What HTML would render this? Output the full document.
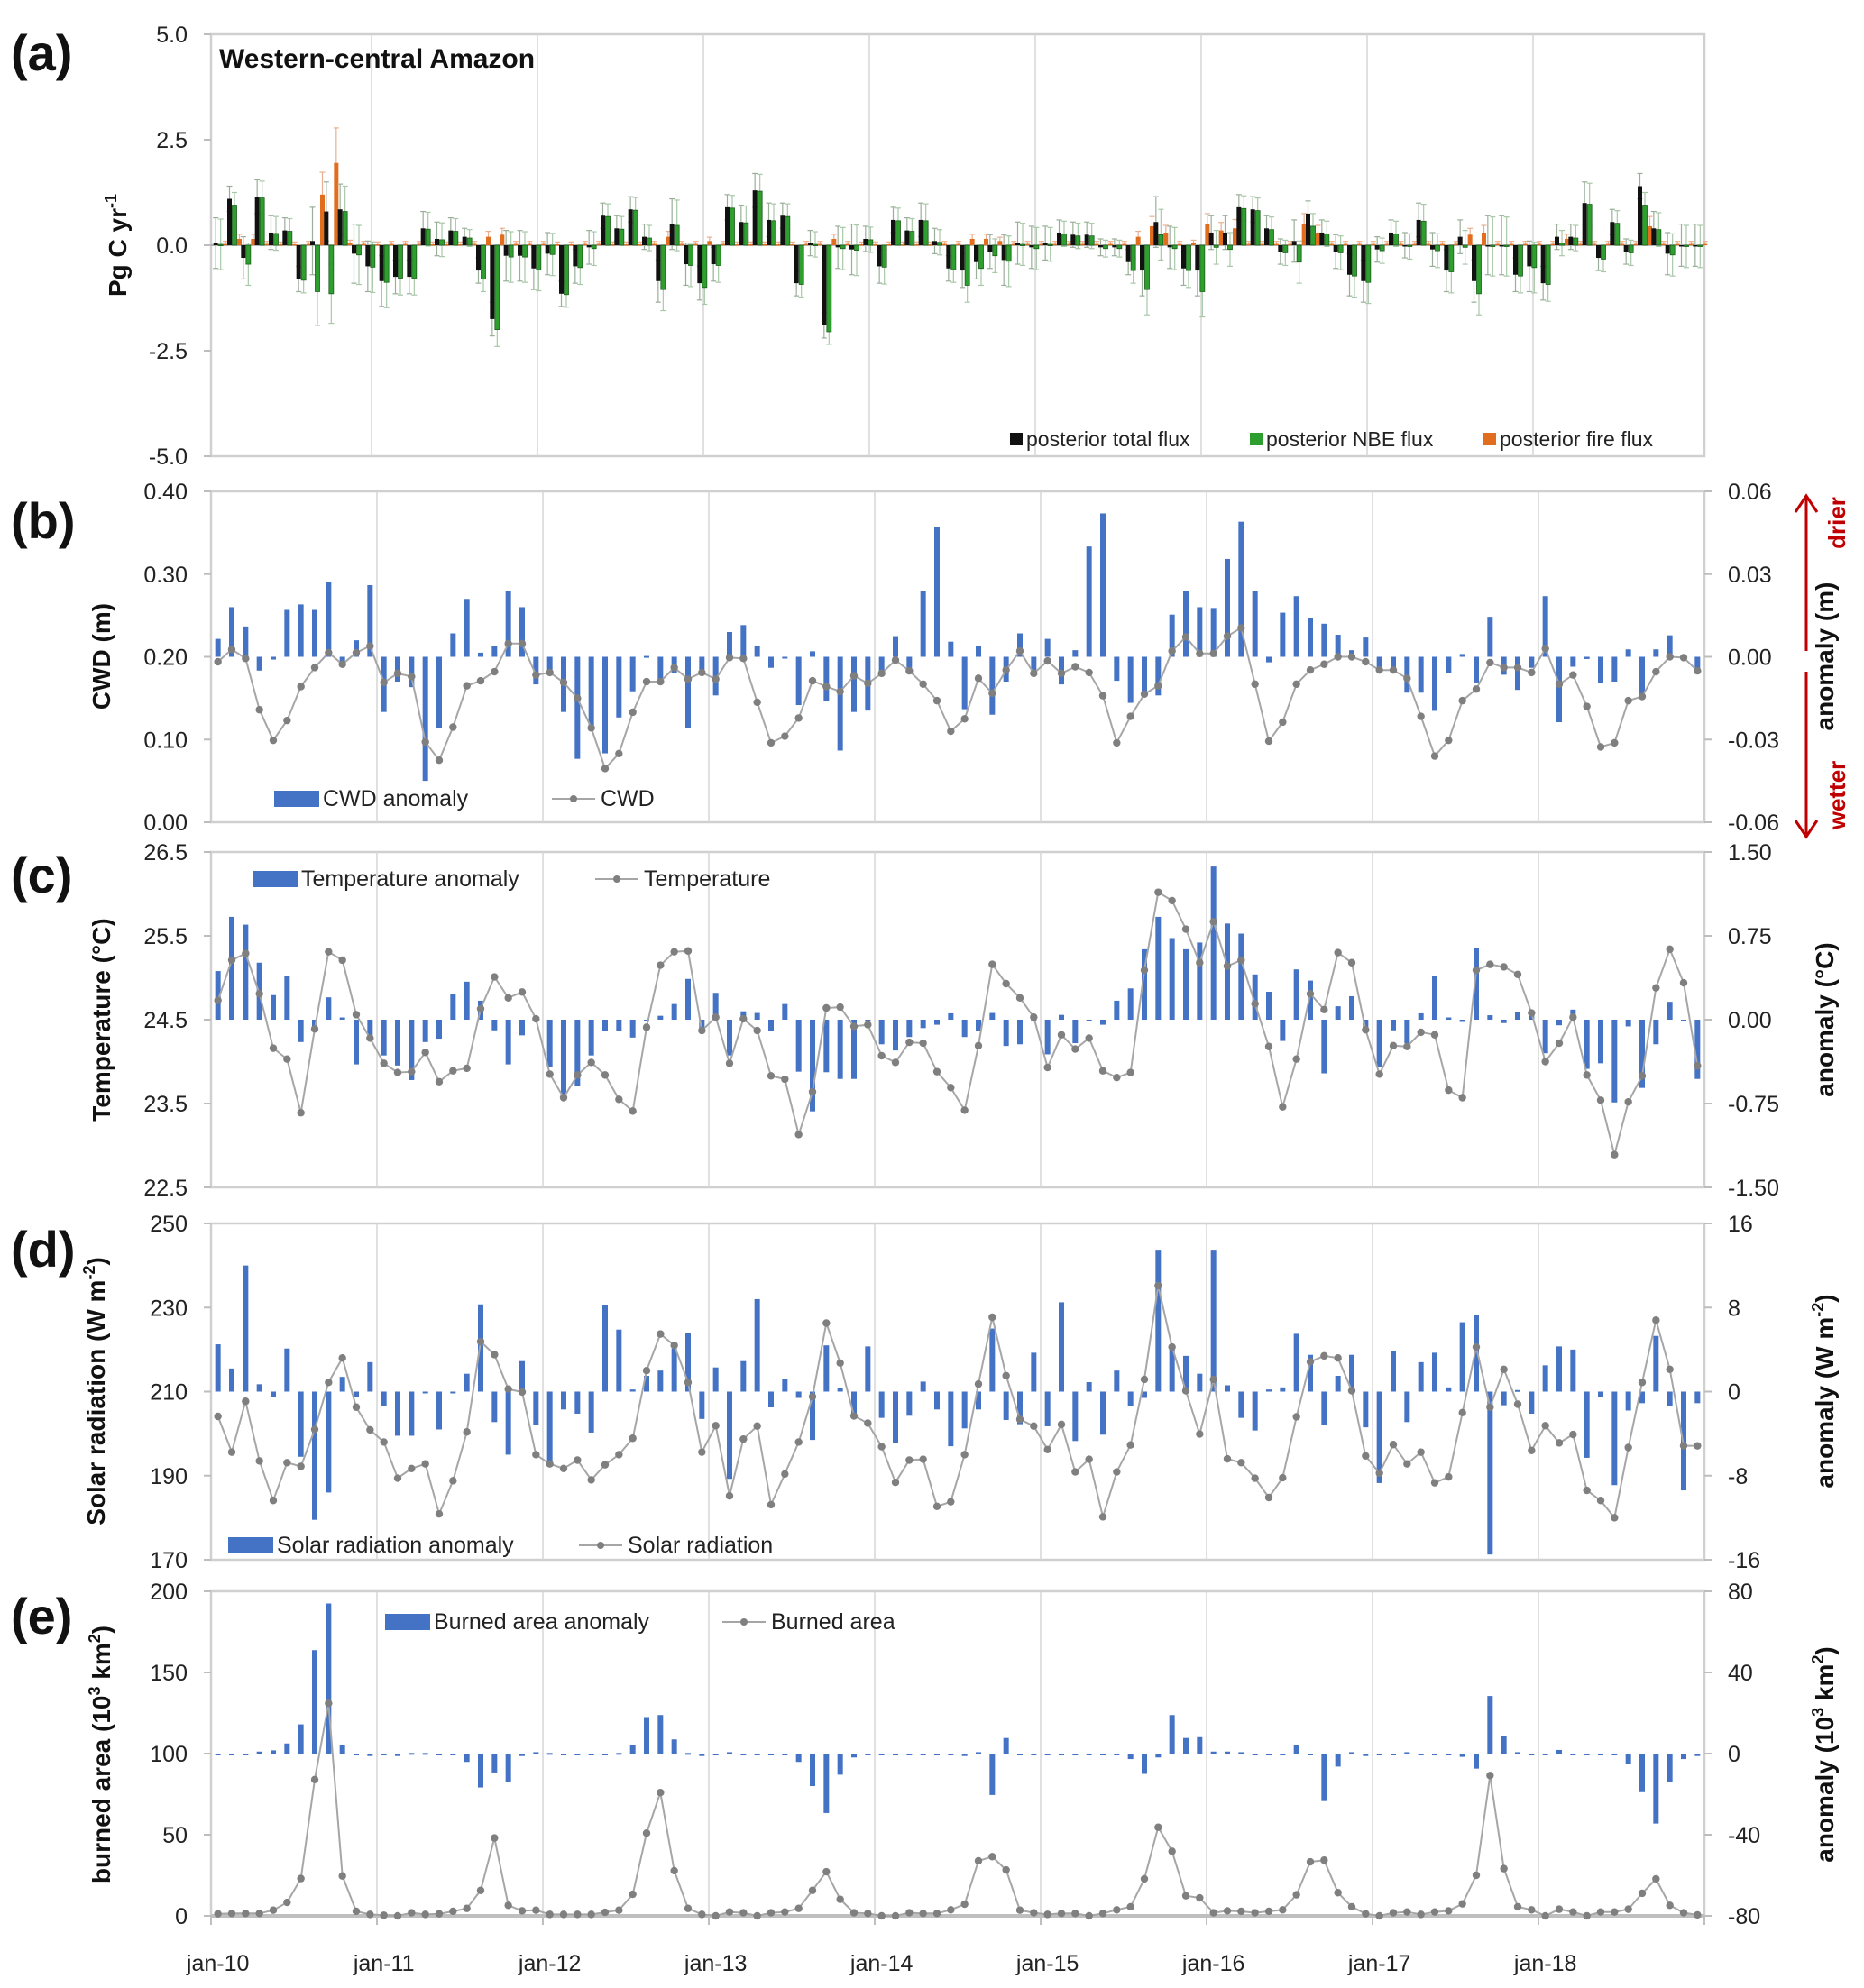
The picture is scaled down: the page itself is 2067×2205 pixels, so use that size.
<!DOCTYPE html>
<html><head><meta charset="utf-8">
<style>
html,body{margin:0;padding:0;background:#fff;}
svg text{font-family:"Liberation Sans",sans-serif;}
</style></head>
<body>
<svg id="fig" xmlns="http://www.w3.org/2000/svg" width="2067" height="2200" viewBox="0 0 2067 2200"></svg>
<script>
// ---------- data (monthly, jan-2010 .. dec-2018) ----------
const yearLabels = ["jan-10","jan-11","jan-12","jan-13","jan-14","jan-15","jan-16","jan-17","jan-18"];

const totalFlux = [0.05,1.1,-0.3,1.15,0.3,0.35,-0.8,0.1,0.8,0.85,-0.2,-0.5,-0.85,-0.75,-0.75,0.4,0.15,0.35,0.2,-0.6,-1.75,-0.25,-0.25,-0.55,-0.2,-1.15,-0.5,-0.05,0.7,0.4,0.85,0.2,-0.85,0.5,-0.45,-0.9,-0.45,0.9,0.55,1.3,0.6,0.7,-0.9,0.05,-1.9,-0.05,-0.1,0.15,-0.5,0.6,0.35,0.6,0.1,-0.55,
-0.6,-0.4,-0.15,-0.35,0.05,-0.05,0.05,0.3,0.25,0.25,-0.05,-0.05,-0.4,-0.6,0.55,-0.05,-0.55,-0.6,0.3,0.3,0.9,0.85,0.4,-0.15,0.1,0.75,0.3,-0.15,-0.7,-0.85,-0.1,0.3,0.0,0.6,-0.1,-0.6,0.2,-0.85,0.0,0.0,-0.7,-0.5,-0.9,0.2,0.2,1.0,-0.3,0.55,-0.15,1.4,0.4,-0.2,0.0,0.0];
const fireFlux = [0.03,0.15,0.15,0.03,0.02,0.02,0.03,1.2,1.95,0.05,0.03,0.02,0.03,0.03,0.03,0.02,0.02,0.02,0.03,0.2,0.25,0.03,0.03,0.03,0.02,0.02,0.03,0.03,0.02,0.02,0.02,0.03,0.2,0.03,0.03,0.1,0.03,0.02,0.02,0.02,0.02,0.02,0.03,0.03,0.15,0.03,0.02,0.02,0.02,0.02,0.02,0.02,0.03,0.03,
0.15,0.15,0.1,0.03,0.03,0.03,0.03,0.03,0.03,0.03,0.03,0.03,0.2,0.45,0.3,0.03,0.05,0.5,0.35,0.4,0.03,0.03,0.03,0.03,0.5,0.3,0.03,0.03,0.03,0.03,0.03,0.03,0.03,0.03,0.03,0.03,0.25,0.3,0.03,0.03,0.03,0.03,0.03,0.15,0.03,0.03,0.03,0.03,0.03,0.45,0.03,0.03,0.03,0.03];
const nbeFlux = [0.02,0.95,-0.45,1.12,0.28,0.33,-0.83,-1.1,-1.15,0.8,-0.23,-0.52,-0.88,-0.78,-0.78,0.38,0.13,0.33,0.17,-0.8,-2.0,-0.28,-0.28,-0.58,-0.22,-1.17,-0.53,-0.08,0.68,0.38,0.83,0.17,-1.05,0.47,-0.48,-1.0,-0.48,0.88,0.53,1.28,0.58,0.68,-0.93,0.02,-2.05,-0.08,-0.12,0.13,-0.52,0.58,0.33,0.58,0.07,-0.58,
-0.95,-0.55,-0.25,-0.38,0.02,-0.08,0.02,0.27,0.22,0.22,-0.08,-0.08,-0.6,-1.05,0.25,-0.08,-0.6,-1.1,-0.05,-0.1,0.87,0.82,0.37,-0.18,-0.4,0.45,0.27,-0.18,-0.73,-0.88,-0.13,0.27,-0.03,0.57,-0.13,-0.63,-0.05,-1.15,-0.03,-0.03,-0.73,-0.53,-0.93,0.05,0.17,0.97,-0.33,0.52,-0.18,0.95,0.37,-0.23,-0.03,-0.03];
const fluxErr = [0.6,0.3,0.5,0.4,0.4,0.3,0.3,0.8,0.7,0.6,0.7,0.6,0.6,0.4,0.4,0.4,0.4,0.3,0.2,0.3,0.4,0.6,0.6,0.5,0.5,0.3,0.4,0.4,0.3,0.3,0.3,0.3,0.5,0.6,0.5,0.4,0.4,0.3,0.4,0.4,0.4,0.3,0.3,0.3,0.3,0.5,0.6,0.3,0.4,0.3,0.3,0.4,0.3,0.3,
0.4,0.4,0.4,0.6,0.5,0.5,0.4,0.3,0.3,0.3,0.2,0.2,0.3,0.6,0.6,0.5,0.4,0.6,0.4,0.4,0.3,0.3,0.3,0.3,0.5,0.3,0.3,0.4,0.5,0.5,0.3,0.3,0.3,0.4,0.4,0.5,0.4,0.5,0.7,0.7,0.4,0.6,0.4,0.3,0.3,0.5,0.3,0.3,0.3,0.3,0.4,0.5,0.5,0.5];

const cwdAnom = [0.0065,0.018,0.011,-0.005,-0.001,0.017,0.019,0.017,0.027,-0.002,0.006,0.026,-0.020,-0.009,-0.011,-0.045,-0.026,0.0085,0.021,0.0015,0.004,0.024,0.018,-0.010,-0.005,-0.020,-0.037,-0.026,-0.035,-0.022,-0.0125,0.0003,-0.008,-0.006,-0.026,-0.006,-0.014,0.009,0.0115,0.004,-0.004,-0.0005,-0.0175,0.002,-0.016,-0.034,-0.020,-0.0195,-0.005,0.0075,-0.004,0.024,0.047,0.0055,-0.019,
0.004,-0.021,-0.009,0.0085,-0.005,0.0065,-0.010,0.0024,0.040,0.052,-0.0087,-0.0167,-0.0128,-0.014,0.0153,0.0238,0.018,0.0177,0.0355,0.049,0.024,-0.002,0.016,0.022,0.014,0.012,0.008,0.0024,0.007,-0.0044,-0.0044,-0.013,-0.013,-0.0196,-0.006,0.001,-0.0093,0.0145,-0.0065,-0.012,-0.004,0.022,-0.0237,-0.0036,-0.0008,-0.0095,-0.009,0.0027,-0.0153,0.0027,0.0078,0.0,-0.0044];
const cwdValue = [0.194,0.209,0.198,0.136,0.099,0.123,0.164,0.187,0.205,0.191,0.205,0.213,0.169,0.180,0.176,0.097,0.075,0.115,0.165,0.171,0.182,0.216,0.216,0.178,0.181,0.169,0.150,0.114,0.065,0.083,0.133,0.170,0.170,0.187,0.173,0.181,0.173,0.199,0.198,0.145,0.096,0.104,0.126,0.171,0.164,0.158,0.177,0.168,0.180,0.196,0.183,0.167,0.147,0.110,0.125,
0.174,0.156,0.184,0.207,0.180,0.195,0.180,0.188,0.181,0.153,0.096,0.128,0.155,0.165,0.207,0.224,0.204,0.204,0.225,0.235,0.167,0.098,0.121,0.167,0.184,0.191,0.200,0.200,0.194,0.184,0.184,0.174,0.128,0.080,0.099,0.147,0.161,0.193,0.187,0.187,0.181,0.210,0.167,0.178,0.140,0.091,0.096,0.147,0.152,0.182,0.200,0.199,0.183];

const tempAnom = [0.435,0.92,0.85,0.51,0.22,0.39,-0.20,-0.10,0.20,0.02,-0.40,-0.15,-0.32,-0.41,-0.54,-0.20,-0.17,0.23,0.34,0.17,-0.095,-0.40,-0.14,0.0,-0.42,-0.67,-0.59,-0.32,-0.10,-0.10,-0.16,0.0,0.035,0.14,0.365,-0.11,0.24,-0.32,0.075,0.06,-0.10,0.14,-0.465,-0.82,-0.47,-0.53,-0.53,0.0,-0.22,-0.275,-0.155,-0.075,-0.045,0.057,-0.155,
-0.10,0.06,-0.235,-0.22,0.0,-0.31,0.043,-0.21,0.0,-0.045,0.17,0.28,0.63,0.92,0.73,0.63,0.69,1.37,0.86,0.77,0.405,0.25,-0.19,0.45,0.35,-0.48,0.12,0.21,-0.08,-0.42,-0.095,-0.21,0.057,0.39,0.02,-0.02,0.64,0.04,-0.03,0.07,0.07,-0.30,-0.05,0.09,-0.44,-0.39,-0.74,-0.06,-0.61,-0.22,0.16,0.0,-0.53];
const tempValue = [24.73,25.21,25.29,24.81,24.16,24.03,23.39,24.39,25.31,25.21,24.56,24.28,23.98,23.87,23.88,24.11,23.76,23.89,23.92,24.63,25.01,24.76,24.83,24.51,23.85,23.57,23.84,23.99,23.84,23.55,23.41,24.41,25.15,25.31,25.32,24.37,24.53,23.98,24.51,24.37,23.83,23.79,23.13,23.64,24.64,24.65,24.42,24.44,24.07,23.99,24.23,24.22,23.88,23.69,23.42,
24.19,25.16,24.93,24.76,24.53,23.93,24.32,24.15,24.28,23.89,23.81,23.87,25.09,26.02,25.92,25.58,25.18,25.67,25.14,25.21,24.69,24.18,23.46,24.03,24.81,24.62,25.30,25.18,24.38,23.85,24.19,24.18,24.35,24.32,23.66,23.57,25.09,25.16,25.13,25.04,24.58,24.00,24.22,24.53,23.84,23.54,22.89,23.52,23.83,24.88,25.34,24.94,23.95];

const solarAnom = [4.5,2.2,12.0,0.7,-0.5,4.1,-6.2,-12.2,-9.6,1.4,-0.5,2.8,-1.4,-4.2,-4.2,0.0,-3.6,0.0,1.7,8.3,-2.9,-6.0,2.9,-3.2,-6.8,-1.7,-2.1,-3.9,8.2,5.9,0.2,1.5,2.0,4.1,5.6,-2.6,2.3,-8.3,2.9,8.8,-1.5,1.2,-0.6,-4.6,4.4,0.3,-2.2,4.3,-2.5,-4.9,-2.3,0.95,-1.7,-5.2,-3.5,
-1.7,6.0,-2.7,-3.1,3.7,-3.3,8.5,-4.7,0.9,-4.1,2.0,-1.4,-0.6,13.5,4.2,3.4,1.7,13.5,0.6,-2.5,-3.7,0.2,0.4,5.5,3.5,-3.2,1.5,3.5,-3.4,-8.7,3.9,-2.9,2.8,3.7,0.4,6.6,7.3,-15.5,-1.3,0.15,-2.1,2.5,4.3,4.0,-6.3,-0.5,-8.9,-1.8,-1.1,5.3,-1.4,-9.4,-1.1];
const solarValue = [204.1,195.6,207.7,193.5,184.1,193.1,192.2,201.0,212.2,218.0,206.3,200.9,198.0,189.4,191.7,192.8,180.9,188.8,200.4,221.9,218.8,210.6,209.9,195.0,192.8,191.7,193.7,189.0,192.6,195.0,198.9,215.0,223.7,221.0,212.2,195.6,201.9,185.2,198.7,201.8,183.1,190.4,198.0,208.8,226.3,216.8,204.2,202.5,196.9,188.4,193.7,193.9,182.7,183.8,195.0,
211.8,227.7,213.8,203.4,201.8,196.2,202.2,190.9,193.9,180.2,190.9,197.3,212.9,235.2,220.6,210.2,199.9,212.9,194.0,193.1,189.4,184.8,189.5,204.0,217.1,218.5,218.0,210.2,194.7,190.6,197.4,192.8,195.6,188.3,189.7,205.0,220.6,206.3,215.3,207.0,196.0,201.9,197.8,199.8,186.5,184.1,180.0,196.7,212.2,227.0,215.3,197.1,197.1];

const burnAnom = [-0.4,-0.5,-0.3,1.0,1.6,5,14.4,51,74,4,-0.9,-1.2,-0.7,-1.2,0.3,0.3,-0.4,0,-4.1,-16.7,-9.3,-14,-1.2,0.7,0.3,-0.1,-0.1,-0.1,-0.1,0.3,4,18,19,7,0.3,-1.2,-0.4,0.7,0,-0.1,0,-0.4,-4.1,-16,-29.3,-10.4,-1.9,-0.4,-0.4,-0.4,-0.1,-0.1,-0.1,-0.4,-1.2,
0.7,-20.4,7.7,0,0,0,0,0,0,0,0,-2.7,-10,-1.9,19,7.7,8.1,1.0,1.0,0.7,0,0,0,4.4,0,-23.4,-6.4,0.7,-1.2,-0.1,-0.1,0.7,-0.1,-0.1,-0.4,-1.6,-7.4,28.4,8.9,0.7,0,0,1.8,0,0,0,-0.4,-4.9,-19,-34.5,-13.8,-2.7,-1.2];
const burnValue = [1.3,1.5,1.5,1.5,3.5,8.3,23,84,131,24.6,2.8,0.9,0.4,0,1.9,0.9,1.3,2.8,4.6,15.7,48,6.5,3.1,3.5,0.9,0.9,0.9,0.9,2.2,3.5,13.3,51,76,27.8,4.6,0.9,0,2.4,1.9,0,1.9,2.4,4.6,15.7,27.2,10.2,1.9,1.5,0,0,1.9,1.5,1.5,3.7,7.2,
33.9,36.5,28.3,3.5,1.9,0.9,1.5,1.5,0,1.5,3.7,5.6,22.8,54.6,39.8,12.4,11.1,1.9,3.1,2.8,1.9,2.8,3.7,13,33.3,34.3,14.3,5.6,1.3,0,1.9,2.4,0.9,2.4,3.1,7.4,25,86.5,29.1,5.6,3.7,0,4.1,2.4,0,2.4,2.4,4.1,13.9,22.8,6.5,1.9,0.6];

// ---------- layout ----------
const NS = "http://www.w3.org/2000/svg";
const svg = document.getElementById('fig');
const X0 = 234, X1 = 1890, NM = 108;
const MW = (X1 - X0) / NM;
function xc(i){ return X0 + (i + 0.5) * MW; }
function mk(tag, attrs, parent){
  const e = document.createElementNS(NS, tag);
  for (const k in attrs) e.setAttribute(k, attrs[k]);
  (parent || svg).appendChild(e);
  return e;
}
function txt(s, x, y, size, opts, parent){
  const t = mk('text', Object.assign({x:x, y:y, 'font-size':size}, opts||{}), parent);
  t.textContent = s;
  return t;
}
function scale(v0, v1, p0, p1){ return v => p0 + (v - v0) / (v1 - v0) * (p1 - p0); }

function frame(g, top, bot, gridOffset, drawTicksBottom){
  mk('rect',{x:X0,y:top,width:X1-X0,height:bot-top,fill:'none',stroke:'#D0D0D0','stroke-width':2.5},g);
  for (let k=1;k<9;k++){
    const gx = X0 + k*12*MW + gridOffset;
    mk('line',{x1:gx,y1:top,x2:gx,y2:bot,stroke:'#D6D6D6','stroke-width':1.5},g);
  }
}
function leftAxis(g, ticks, labels, y, axTitle){
  ticks.forEach((v,i)=>{
    const yy = y(v);
    mk('line',{x1:X0-8,y1:yy,x2:X0,y2:yy,stroke:'#BDBDBD','stroke-width':2},g);
    const t = txt(labels[i], X0-26, yy+9, 25, {'text-anchor':'end',fill:'#222'}, g);
    
    
  });
}
function rightAxis(g, ticks, labels, y){
  ticks.forEach((v,i)=>{
    const yy = y(v);
    mk('line',{x1:X1,y1:yy,x2:X1+8,y2:yy,stroke:'#BDBDBD','stroke-width':2},g);
    const t = txt(labels[i], X1+26, yy+9, 25, {'text-anchor':'start',fill:'#222'}, g);
    
    
  });
}
function vTitle(g, parts, cx, cy, name){
  const t = mk('text',{x:0,y:0,'font-size':28,'font-weight':'bold','text-anchor':'middle',fill:'#111',
    transform:`translate(${cx},${cy}) rotate(-90)`},g);
  
  
  parts.forEach(p=>{
    const s = mk('tspan', p.sup?{'font-size':18,dy:-11}:(p.after?{dy:11}:{}), t);
    s.textContent = p.t;
  });
  return t;
}
function panelLabel(s, y){
  const t = txt(s, 12, y, 56, {'font-weight':'bold',fill:'#111'});
  
  
}
function anomBars(g, vals, yR, name){
  const y0 = yR(0);
  vals.forEach((v,i)=>{
    const yy = yR(v);
    let h = Math.abs(yy - y0); if (h < 2) h = 2;
    const r = mk('rect',{x:xc(i)-3,y:Math.min(yy,y0),width:6,height:h,fill:'#4472C4'},g);
    
    
  });
}
function lineSeries(g, vals, yL, name){
  const pts = vals.map((v,i)=>xc(i).toFixed(1)+','+yL(v).toFixed(1)).join(' ');
  const pl = mk('polyline',{points:pts,fill:'none',stroke:'#A6A6A6','stroke-width':2},g);
  
  
  vals.forEach((v,i)=>{
    const c = mk('circle',{cx:xc(i),cy:yL(v),r:4.2,fill:'#7F7F7F'},g);
    
    
  });
}
function legendBox(g, x, y, label, name){
  const r = mk('rect',{x:x,y:y-17,width:50,height:18,fill:'#4472C4'},g);
  
  
  const t = txt(label, x+54, y, 25, {fill:'#222'}, g);
  
  
}
function legendLine(g, x, y, label, name){
  mk('line',{x1:x,y1:y-8,x2:x+48,y2:y-8,stroke:'#A6A6A6','stroke-width':2},g);
  mk('circle',{cx:x+24,cy:y-8,r:4,fill:'#7F7F7F'},g);
  const t = txt(label, x+54, y, 25, {fill:'#222'}, g);
  
  
}
function group(name){ const g = mk('g',{});   return g; }

// ---------- panel a ----------
(function(){
  const g = group('panel-a-flux');
  const top=38, bot=506;
  frame(g, top, bot, -6);
  const y = scale(-5,5,bot,top);
  leftAxis(g,[5,2.5,0,-2.5,-5],["5.0","2.5","0.0","-2.5","-5.0"],y);
  mk('line',{x1:X0,y1:y(0),x2:X1,y2:y(0),stroke:'#A0A0A0','stroke-width':1.5},g);
  vTitle(g,[{t:'Pg C yr'},{t:'-1',sup:true},{t:'',after:true}],140,y(0),'y-axis-title-flux');
  const t = txt('Western-central Amazon',243,75,30,{'font-weight':'bold',fill:'#111'},g);
   
  const y0 = y(0);
  function bar(v, x, col, name, stroke){
    const yy = y(v); let h = Math.abs(yy-y0); if(h<1.5)h=1.5;
    const r = mk('rect',{x:x,y:Math.min(yy,y0),width:5,height:h,fill:col},g);
    if(stroke) { r.setAttribute('stroke',stroke); r.setAttribute('stroke-width',0.8); }
     
  }
  totalFlux.forEach((v,i)=>{
    const cx = xc(i);
    // error bars
    [[totalFlux[i],cx-5,'#9AAE9A'],[nbeFlux[i],cx+0.5,'#A8C8A8']].forEach(a=>{
      const v1=y(a[0]+fluxErr[i]), v2=y(a[0]-fluxErr[i]), xx=a[1]+2.5;
      const el = mk('line',{x1:xx,y1:v1,x2:xx,y2:v2,stroke:a[2],'stroke-width':1.2},g);
       
      mk('line',{x1:xx-3,y1:v1,x2:xx+3,y2:v1,stroke:a[2],'stroke-width':1.2},g);
      mk('line',{x1:xx-3,y1:v2,x2:xx+3,y2:v2,stroke:a[2],'stroke-width':1.2},g);
    });
    const fv1=y(fireFlux[i]+fireFlux[i]*0.4+0.05);
    mk('line',{x1:cx+8.5,y1:fv1,x2:cx+8.5,y2:y0,stroke:'#E8B090','stroke-width':1.2},g);
    mk('line',{x1:cx+5.5,y1:fv1,x2:cx+11.5,y2:fv1,stroke:'#E8B090','stroke-width':1.2},g);
    bar(totalFlux[i], cx-5, '#111111', 'total-flux-bar');
    bar(nbeFlux[i], cx+0.5, '#2E9E2E', 'nbe-flux-bar', '#1B5E1B');
    bar(fireFlux[i], cx+6, '#E06E1E', 'fire-flux-bar');
  });
  // legend
  const items=[[1120,'#111111','posterior total flux'],[1386,'#2E9E2E','posterior NBE flux'],[1645,'#E06E1E','posterior fire flux']];
  items.forEach(it=>{
    const r = mk('rect',{x:it[0],y:480,width:14,height:14,fill:it[1]},g);
     
    const tt = txt(it[2],it[0]+18,495,23,{fill:'#222'},g);
     
  });
})();
panelLabel('(a)',78);

// ---------- panel b ----------
(function(){
  const g = group('panel-b-cwd');
  const top=545, bot=912;
  frame(g, top, bot, 0);
  const yL = scale(0,0.4,bot,top), yR = scale(-0.06,0.06,bot,top);
  leftAxis(g,[0.4,0.3,0.2,0.1,0],["0.40","0.30","0.20","0.10","0.00"],yL);
  rightAxis(g,[0.06,0.03,0,-0.03,-0.06],["0.06","0.03","0.00","-0.03","-0.06"],yR);
  anomBars(g, cwdAnom, yR, 'cwd-anomaly-bar');
  lineSeries(g, cwdValue, yL, 'cwd');
  vTitle(g,[{t:'CWD (m)'}],122,728,'y-axis-title-cwd');
  vTitle(g,[{t:'anomaly (m)'}],2033,728,'y2-axis-title-cwd');
  legendBox(g,304,894,'CWD anomaly','legend-cwd-anomaly');
  legendLine(g,612,894,'CWD','legend-cwd');
  // drier / wetter arrow
  const ar = mk('g',{},g);  
  mk('line',{x1:2003,y1:552,x2:2003,y2:722,stroke:'#C00000','stroke-width':3},ar);
  mk('line',{x1:2003,y1:745,x2:2003,y2:925,stroke:'#C00000','stroke-width':3},ar);
  mk('polyline',{points:'1991,568 2003,550 2015,568',fill:'none',stroke:'#C00000','stroke-width':3},ar);
  mk('polyline',{points:'1991,910 2003,928 2015,910',fill:'none',stroke:'#C00000','stroke-width':3},ar);
  const d = mk('text',{x:0,y:0,'font-size':26,'font-weight':'bold','text-anchor':'middle',fill:'#C00000',transform:'translate(2046,580) rotate(-90)'},g);
  d.textContent='drier';  
  const w = mk('text',{x:0,y:0,'font-size':26,'font-weight':'bold','text-anchor':'middle',fill:'#C00000',transform:'translate(2046,882) rotate(-90)'},g);
  w.textContent='wetter';  
})();
panelLabel('(b)',597);

// ---------- panel c ----------
(function(){
  const g = group('panel-c-temperature');
  const top=945, bot=1317;
  frame(g, top, bot, 0);
  const yL = scale(22.5,26.5,bot,top), yR = scale(-1.5,1.5,bot,top);
  leftAxis(g,[26.5,25.5,24.5,23.5,22.5],["26.5","25.5","24.5","23.5","22.5"],yL);
  rightAxis(g,[1.5,0.75,0,-0.75,-1.5],["1.50","0.75","0.00","-0.75","-1.50"],yR);
  anomBars(g, tempAnom, yR, 'temperature-anomaly-bar');
  lineSeries(g, tempValue, yL, 'temperature');
  vTitle(g,[{t:'Temperature  (°C)'}],122,1131,'y-axis-title-temperature');
  vTitle(g,[{t:'anomaly (°C)'}],2033,1131,'y2-axis-title-temperature');
  legendBox(g,280,983,'Temperature anomaly','legend-temperature-anomaly');
  legendLine(g,660,983,'Temperature','legend-temperature');
})();
panelLabel('(c)',990);

// ---------- panel d ----------
(function(){
  const g = group('panel-d-solar');
  const top=1357, bot=1730;
  frame(g, top, bot, 0);
  const yL = scale(170,250,bot,top), yR = scale(-16,16,bot,top);
  leftAxis(g,[250,230,210,190,170],["250","230","210","190","170"],yL);
  rightAxis(g,[16,8,0,-8,-16],["16","8","0","-8","-16"],yR);
  anomBars(g, solarAnom, yR, 'solar-anomaly-bar');
  lineSeries(g, solarValue, yL, 'solar-radiation');
  vTitle(g,[{t:'Solar radiation  (W m'},{t:'-2',sup:true},{t:')',after:true}],116,1543,'y-axis-title-solar');
  vTitle(g,[{t:'anomaly (W m'},{t:'-2',sup:true},{t:')',after:true}],2033,1543,'y2-axis-title-solar');
  legendBox(g,253,1722,'Solar radiation anomaly','legend-solar-anomaly');
  legendLine(g,642,1722,'Solar radiation','legend-solar');
})();
panelLabel('(d)',1405);

// ---------- panel e ----------
(function(){
  const g = group('panel-e-burned-area');
  const top=1765, bot=2125;
  frame(g, top, bot, 0);
  mk('line',{x1:X0,y1:bot,x2:X1,y2:bot,stroke:'#BFBFBF','stroke-width':4},g);
  const yL = scale(0,200,bot,top), yR = scale(-80,80,bot,top);
  leftAxis(g,[200,150,100,50,0],["200","150","100","50","0"],yL);
  rightAxis(g,[80,40,0,-40,-80],["80","40","0","-40","-80"],yR);
  anomBars(g, burnAnom, yR, 'burned-area-anomaly-bar');
  lineSeries(g, burnValue, yL, 'burned-area');
  vTitle(g,[{t:'burned area (10'},{t:'3',sup:true},{t:' km',after:true},{t:'2',sup:true},{t:')',after:true}],122,1946,'y-axis-title-burned');
  vTitle(g,[{t:'anomaly (10'},{t:'3',sup:true},{t:' km',after:true},{t:'2',sup:true},{t:')',after:true}],2033,1946,'y2-axis-title-burned');
  legendBox(g,427,1807,'Burned area anomaly','legend-burned-anomaly');
  legendLine(g,801,1807,'Burned area','legend-burned');
  for (let k=0;k<=9;k++){
    const gx = X0 + k*12*MW;
    mk('line',{x1:gx,y1:bot,x2:gx,y2:bot+10,stroke:'#BFBFBF','stroke-width':2},g);
  }
  yearLabels.forEach((s,k)=>{
    const t = txt(s, xc(k*12), 2186, 25, {'text-anchor':'middle',fill:'#222'}, g);
    
    
  });
})();
panelLabel('(e)',1812);
</script>
</body></html>
